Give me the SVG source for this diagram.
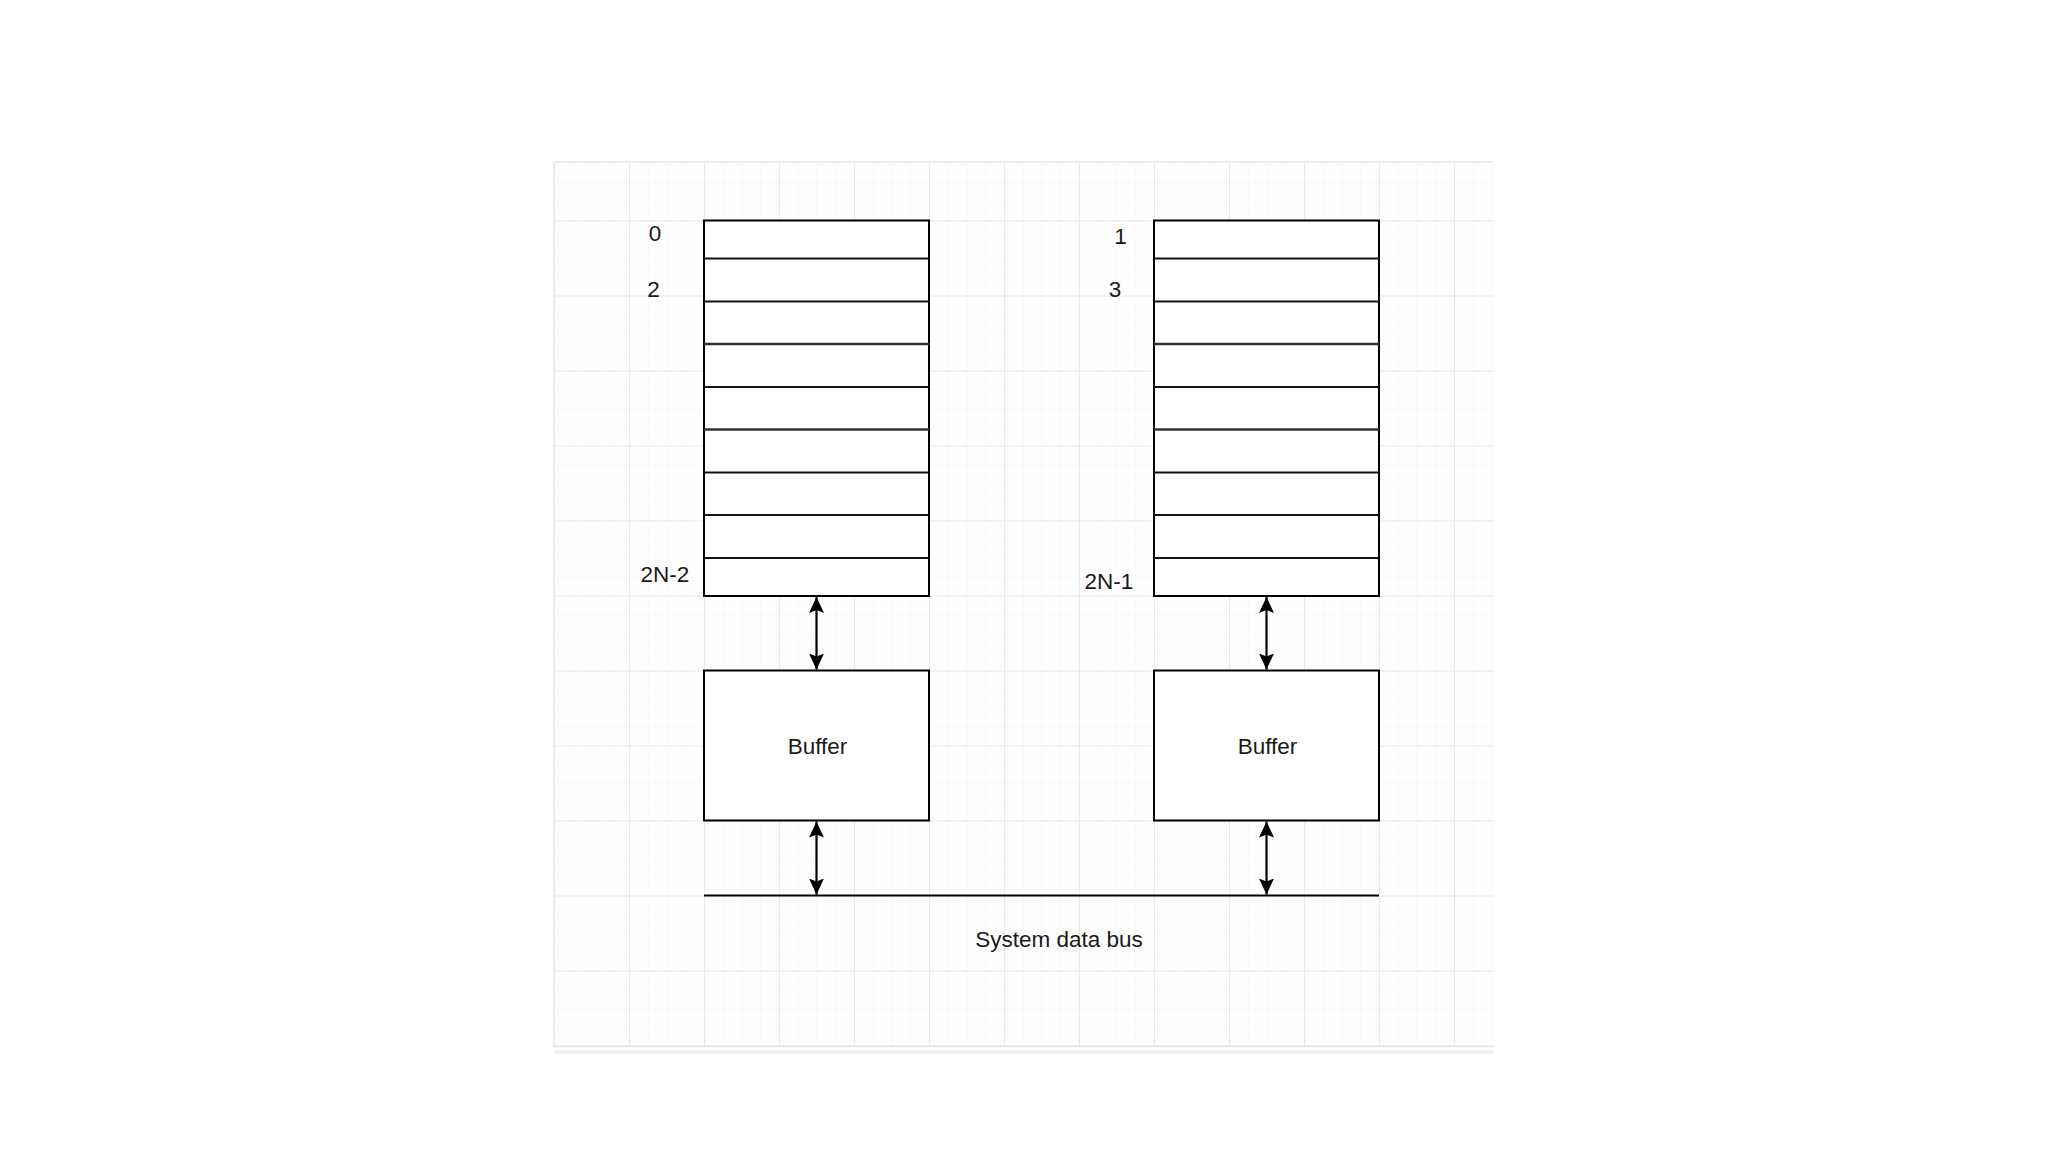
<svg xmlns="http://www.w3.org/2000/svg" width="2048" height="1152" viewBox="0 0 2048 1152">
  <defs>
    <pattern id="minor" x="554" y="220.5" width="18.75" height="18.75" patternUnits="userSpaceOnUse">
      <path d="M0,0 H18.75 M0,0 V18.75" stroke="#f3f3f5" stroke-width="1" fill="none"/>
    </pattern>
    <pattern id="major" x="554" y="220.5" width="75" height="75" patternUnits="userSpaceOnUse">
      <path d="M0,0 H75 M0,0 V75" stroke="#e4e4e8" stroke-width="1.5" fill="none"/>
    </pattern>
    <marker id="head" markerUnits="userSpaceOnUse" markerWidth="18" markerHeight="18" viewBox="0 0 18 18" refX="16" refY="8.5" orient="auto-start-reverse">
      <path d="M0,1 L16,8.5 L0,16 L3,8.5 Z" fill="#000"/>
    </marker>
  </defs>
  <style>
    .txt { font-family: "Liberation Sans", Arial, sans-serif; font-size: 22.5px; fill: #1a1a1a; text-anchor: middle; }
    .box { fill: #ffffff; stroke: #000; stroke-width: 2; }
    .row { stroke: #111; stroke-width: 2; }
    .conn { stroke: #000; stroke-width: 2.2; fill: none; marker-start: url(#head); marker-end: url(#head); }
  </style>

  <rect width="2048" height="1152" fill="#ffffff"/>

  <!-- grid background -->
  <g id="grid">
    <rect x="554" y="162" width="940" height="885" fill="#fefefe"/>
    <rect x="554" y="162" width="940" height="885" fill="url(#minor)"/>
    <rect x="554" y="162" width="940" height="885" fill="url(#major)"/>
    <path d="M554,162 H1494 M554,162 V1047 M554,1046.5 H1494" stroke="#e6e6ea" stroke-width="1.5" fill="none"/>
    <rect x="554" y="1050" width="940" height="4" fill="#efeff1"/>
  </g>

  <!-- left memory bank -->
  <g id="bank-even">
    <rect class="box" x="704" y="220.5" width="225" height="375.5"/>
    <path class="row" d="M704,258.5 H929 M704,301.5 H929 M704,387 H929 M704,472.5 H929 M704,515 H929 M704,558 H929"/>
    <path d="M704,344 H929 M704,429.5 H929" stroke="#333" stroke-width="2.5"/>
    <text class="txt" x="655" y="240.5">0</text>
    <text class="txt" x="653.5" y="296.5">2</text>
    <text class="txt" x="665" y="581.5">2N-2</text>
  </g>

  <!-- right memory bank -->
  <g id="bank-odd">
    <rect class="box" x="1154" y="220.5" width="225" height="375.5"/>
    <path class="row" d="M1154,258.5 H1379 M1154,301.5 H1379 M1154,387 H1379 M1154,472.5 H1379 M1154,515 H1379 M1154,558 H1379"/>
    <path d="M1154,344 H1379 M1154,429.5 H1379" stroke="#333" stroke-width="2.5"/>
    <text class="txt" x="1120.5" y="244">1</text>
    <text class="txt" x="1115" y="296.5">3</text>
    <text class="txt" x="1109" y="589">2N-1</text>
  </g>

  <!-- buffers -->
  <g id="buffer-left">
    <rect class="box" x="704" y="670.5" width="225" height="150"/>
    <text class="txt" x="817.5" y="754">Buffer</text>
  </g>
  <g id="buffer-right">
    <rect class="box" x="1154" y="670.5" width="225" height="150"/>
    <text class="txt" x="1267.5" y="754">Buffer</text>
  </g>

  <!-- system data bus -->
  <g id="bus">
    <line x1="704" y1="895.5" x2="1379" y2="895.5" stroke="#000" stroke-width="2"/>
    <text class="txt" x="1059" y="946.5">System data bus</text>
  </g>

  <!-- connectors -->
  <g id="connectors">
    <line class="conn" x1="816.5" y1="597" x2="816.5" y2="669.5"/>
    <line class="conn" x1="1266.5" y1="597" x2="1266.5" y2="669.5"/>
    <line class="conn" x1="816.5" y1="821.5" x2="816.5" y2="894.5"/>
    <line class="conn" x1="1266.5" y1="821.5" x2="1266.5" y2="894.5"/>
  </g>
</svg>
